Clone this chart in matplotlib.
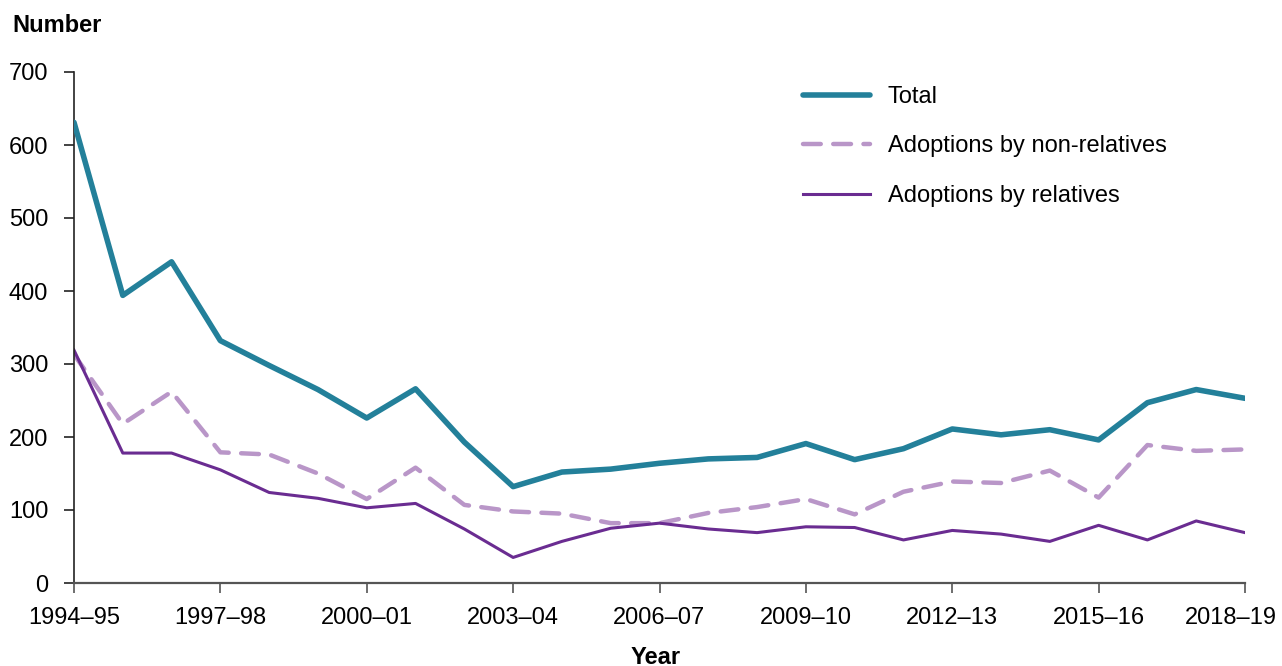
import matplotlib
matplotlib.use("Agg")
import matplotlib.pyplot as plt
import matplotlib.transforms as mtransforms

years = ["1994–95", "1995–96", "1996–97", "1997–98", "1998–99", "1999–00", "2000–01",
         "2001–02", "2002–03", "2003–04", "2004–05", "2005–06", "2006–07", "2007–08",
         "2008–09", "2009–10", "2010–11", "2011–12", "2012–13", "2013–14", "2014–15",
         "2015–16", "2016–17", "2017–18", "2018–19"]
total = [631, 394, 440, 332, 298, 265, 226, 266, 193, 132, 152, 156, 164, 170, 172,
         191, 169, 184, 211, 203, 210, 196, 247, 265, 253]
non_relatives = [313, 218, 262, 179, 176, 150, 115, 158, 107, 98, 95, 82, 82, 96, 104,
                 115, 94, 125, 139, 137, 154, 117, 189, 181, 183]
relatives = [319, 178, 178, 155, 124, 116, 103, 109, 74, 35, 57, 75, 82, 74, 69,
             77, 76, 59, 72, 67, 57, 79, 59, 85, 69]
yticks = [0, 100, 200, 300, 400, 500, 600, 700]

plt.rcParams['font.family'] = ['Liberation Sans', 'DejaVu Sans']

fig = plt.figure(figsize=(12.82, 6.66), dpi=100)
ax = fig.add_axes([74/1282, 1-583/666, (1245-74)/1282, (583-72)/666])

x = list(range(len(years)))
ax.plot(x, total, color='#23809A', lw=4.0, label='Total', solid_capstyle='round',
        zorder=3)
ax.plot(x, non_relatives, color='#B996C8', lw=3.2, label='Adoptions by non-relatives',
        dashes=(4, 2.8), dash_capstyle='round', zorder=2)
ax.plot(x, relatives, color='#6A2C91', lw=2.2, label='Adoptions by relatives', zorder=2)

ax.set_xlim(0, len(years) - 1)
ax.set_ylim(0, 700)
ax.set_yticks(yticks)
ax.set_yticklabels([str(v) for v in yticks])
ax.set_xticks(x[::3])
ax.set_xticklabels(years[::3])
ax.tick_params(axis='both', labelsize=17, length=7.5, width=1.2, direction='out')
ax.tick_params(axis='x', colors='#555555', labelcolor='black', pad=10)
ax.tick_params(axis='y', colors='#222222', labelcolor='black', pad=11)

# shift last x label left so it stays inside the figure
last = ax.get_xticklabels()[-1]
last.set_transform(last.get_transform() +
                   mtransforms.ScaledTranslation(-14/100, 0, fig.dpi_scale_trans))

for s in ['top', 'right']:
    ax.spines[s].set_visible(False)
ax.spines['left'].set_color('#222222')
ax.spines['left'].set_linewidth(1.2)
ax.spines['bottom'].set_color('#555555')
ax.spines['bottom'].set_linewidth(1.6)

fig.text(12/1282, 1-25/666, 'Number', fontsize=17, fontweight='bold', va='center', ha='left')
fig.text(656/1282, 1-657/666, 'Year', fontsize=17, fontweight='bold', va='center', ha='center')

leg = ax.legend(loc='upper left', bbox_to_anchor=(803/1282, 1-86/666),
                bbox_transform=fig.transFigure, frameon=False, fontsize=17,
                handlelength=2.85, handletextpad=0.75, labelspacing=1.16,
                borderaxespad=0, borderpad=0)

fig.savefig('out.png', dpi=100)
